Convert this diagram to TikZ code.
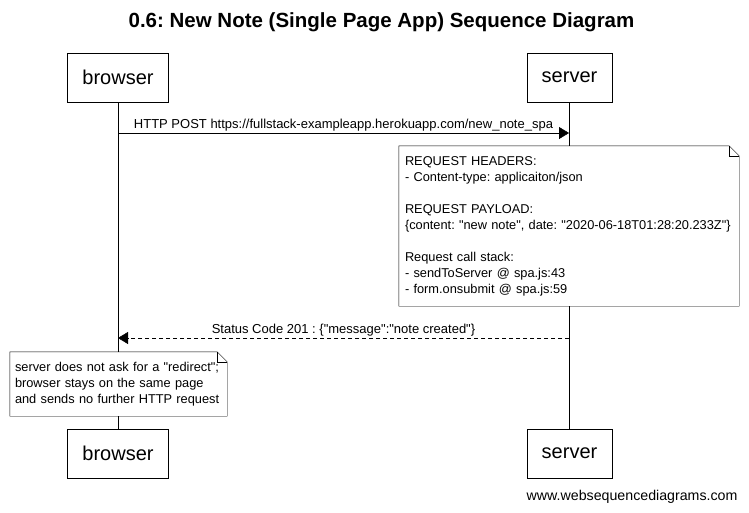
\documentclass[tikz,border=0pt]{standalone}
\usepackage{fontspec}
\setmainfont{Liberation Sans}[Ligatures=TeXOff]
\usepackage{tikz}
\usetikzlibrary{arrows.meta}
\frenchspacing
\tikzstyle{actor}=[draw, inner xsep=15pt, minimum height=49pt, font=\fontsize{20}{24}\selectfont]
\tikzstyle{note}=[align=left, inner ysep=0pt, font=\fontsize{12.8}{16}\selectfont]
\tikzstyle{msg}=[-{Triangle[length=10pt,width=12pt]}]
\newcommand{\actor}{\node[actor]}
\newcommand{\notebox}[1]{\draw (#1.north west) -- ([xshift=-10pt]#1.north east) -- ([yshift=-10pt]#1.north east) -- (#1.south east) -- (#1.south west) -- cycle;
    \draw ([xshift=-10pt]#1.north east) |- ([yshift=-10pt]#1.north east);}

\begin{document}
\begin{tikzpicture}[x=1pt,y=-1pt]
    \useasboundingbox (0,0) rectangle (749,512);
    \node[font=\fontsize{20.5}{24}\selectfont\bfseries] (title) at (381.5,22) {0.6: New Note (Single Page App) Sequence Diagram};
    \actor (bt) at (118,77.5) {browser};
    \actor (st) at (569.5,77.5) {server};
    \actor (bb) at (118,453.5) {browser};
    \actor (sb) at (569.5,453.5) {server};
    \node[note, inner xsep=6pt, minimum width=340pt, minimum height=160pt, text width=328pt] (sn) at (569,226) {REQUEST HEADERS:\\- Content-type: applicaiton/json\\[16pt]REQUEST PAYLOAD:\\\{content: "new note", date: "2020-06-18T01:28:20.233Z"\}\\[16pt]Request call stack:\\- sendToServer @ spa.js:43\\- form.onsubmit @ spa.js:59};
    \node[note, inner xsep=5pt, minimum width=217pt, minimum height=64pt, text width=207pt] (bn) at (118.5,384) {server does not ask for a "redirect";\\browser stays on the same page\\and sends no further HTTP request};
    \notebox{sn}
    \notebox{bn}
    \coordinate (p1) at (118,133);
    \coordinate (p2) at (569,133);
    \coordinate (p3) at (569,338);
    \coordinate (p4) at (118,338);
    % lifelines
    \path[-]
    (bt.south) edge (bt.south |- bn.north)
    (bt.south |- bn.south) edge (bb.north)
    (st.south) edge (st.south |- sn.north)
    (st.south |- sn.south) edge (sb.north);
    \draw[msg] (p1) -- node[above, font=\fontsize{13}{16}\selectfont, inner sep=2pt] {HTTP POST https://fullstack-exampleapp.herokuapp.com/new\_note\_spa} (p2);
    \draw[msg, dash pattern=on 4pt off 3pt] (p3) -- node[above, font=\fontsize{13}{16}\selectfont, inner sep=2pt] {Status Code 201 : \{"message":"note created"\}} (p4);
    \node[anchor=east, font=\fontsize{14.2}{16}\selectfont] (site) at (741,497) {www.websequencediagrams.com};
\end{tikzpicture}
\end{document}
